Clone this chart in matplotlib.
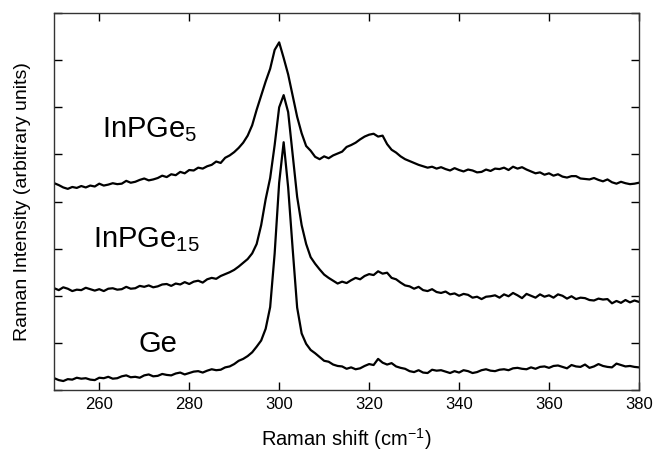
import matplotlib
matplotlib.use("Agg")
import matplotlib.pyplot as plt
import numpy as np

plt.rcParams['font.family'] = ['Liberation Sans', 'DejaVu Sans']
plt.rcParams['mathtext.default'] = 'regular'

# Raman shift grid (cm^-1), one point per wavenumber
shift = np.arange(250, 381, 1)

# intensities (arbitrary units, offset stacked)
ge = [0.25, 0.21, 0.19, 0.23, 0.22, 0.26, 0.24, 0.25, 0.22, 0.21,
      0.26, 0.25, 0.28, 0.24, 0.25, 0.29, 0.31, 0.27, 0.28, 0.26,
      0.31, 0.33, 0.29, 0.30, 0.34, 0.32, 0.31, 0.35, 0.37, 0.33,
      0.36, 0.39, 0.40, 0.37, 0.41, 0.44, 0.42, 0.43, 0.48, 0.50,
      0.55, 0.62, 0.66, 0.72, 0.80, 0.92, 1.05, 1.30, 1.76, 2.90,
      4.40, 5.26, 4.30, 3.00, 1.75, 1.20, 0.98, 0.85, 0.78, 0.70,
      0.62, 0.60, 0.54, 0.51, 0.50, 0.45, 0.48, 0.44, 0.46, 0.51,
      0.55, 0.53, 0.66, 0.58, 0.54, 0.57, 0.50, 0.47, 0.45, 0.40,
      0.38, 0.42, 0.37, 0.36, 0.43, 0.41, 0.42, 0.39, 0.36, 0.40,
      0.37, 0.42, 0.40, 0.36, 0.38, 0.42, 0.44, 0.41, 0.40, 0.43,
      0.44, 0.42, 0.46, 0.47, 0.45, 0.44, 0.48, 0.45, 0.49, 0.50,
      0.47, 0.51, 0.52, 0.49, 0.46, 0.53, 0.50, 0.49, 0.54, 0.47,
      0.50, 0.55, 0.51, 0.49, 0.48, 0.56, 0.53, 0.50, 0.51, 0.49,
      0.48]

inpge15 = [2.16, 2.12, 2.18, 2.15, 2.10, 2.13, 2.12, 2.17, 2.14, 2.11,
           2.14, 2.10, 2.15, 2.16, 2.13, 2.14, 2.19, 2.15, 2.16, 2.21,
           2.19, 2.22, 2.18, 2.20, 2.24, 2.25, 2.21, 2.26, 2.24, 2.29,
           2.25, 2.30, 2.32, 2.28, 2.35, 2.38, 2.36, 2.42, 2.46, 2.50,
           2.55, 2.62, 2.70, 2.78, 2.90, 3.10, 3.50, 4.05, 4.50, 5.20,
           6.00, 6.26, 5.90, 5.00, 4.10, 3.50, 3.10, 2.82, 2.68, 2.56,
           2.45, 2.38, 2.32, 2.26, 2.30, 2.27, 2.33, 2.38, 2.35, 2.42,
           2.46, 2.44, 2.52, 2.47, 2.49, 2.38, 2.35, 2.28, 2.22, 2.20,
           2.15, 2.19, 2.12, 2.10, 2.14, 2.08, 2.06, 2.09, 2.03, 2.05,
           2.00, 2.04, 2.02, 1.96, 1.98, 1.93, 1.98, 1.99, 2.01, 1.96,
           2.03, 1.99, 2.06, 2.01, 1.95, 2.04, 2.00, 1.96, 2.03, 1.98,
           2.01, 1.96, 2.03, 2.00, 1.94, 1.99, 1.93, 1.96, 1.95, 1.91,
           1.90, 1.94, 1.92, 1.93, 1.84, 1.89, 1.85, 1.91, 1.86, 1.90,
           1.87]

inpge5 = [4.39, 4.35, 4.30, 4.27, 4.31, 4.29, 4.33, 4.30, 4.34, 4.32,
          4.38, 4.34, 4.36, 4.39, 4.37, 4.38, 4.44, 4.40, 4.42, 4.46,
          4.49, 4.45, 4.47, 4.50, 4.55, 4.52, 4.58, 4.56, 4.63, 4.60,
          4.67, 4.66, 4.72, 4.70, 4.75, 4.78, 4.85, 4.82, 4.93, 4.98,
          5.05, 5.14, 5.25, 5.40, 5.62, 5.95, 6.25, 6.55, 6.82, 7.22,
          7.38, 7.05, 6.70, 6.25, 5.80, 5.45, 5.18, 5.08, 4.95, 4.90,
          4.96, 4.92, 4.98, 5.02, 5.06, 5.16, 5.20, 5.25, 5.32, 5.38,
          5.42, 5.44, 5.38, 5.40, 5.22, 5.10, 5.04, 4.96, 4.90, 4.86,
          4.82, 4.78, 4.75, 4.72, 4.74, 4.70, 4.73, 4.69, 4.66, 4.71,
          4.67, 4.64, 4.68, 4.66, 4.62, 4.63, 4.68, 4.65, 4.70, 4.69,
          4.72, 4.67, 4.74, 4.70, 4.73, 4.68, 4.64, 4.60, 4.62, 4.57,
          4.60, 4.55, 4.58, 4.53, 4.51, 4.54, 4.54, 4.49, 4.48, 4.47,
          4.50, 4.46, 4.43, 4.47, 4.41, 4.38, 4.42, 4.39, 4.37, 4.38,
          4.40]

labels = ['InPGe$_{5}$', 'InPGe$_{15}$', 'Ge']
label_x = [260.7, 258.7, 268.7]
label_y = [5.37, 3.03, 0.81]

fig = plt.figure(figsize=(6.54, 4.54), dpi=100)
ax = fig.add_axes([0.083, 0.141, 0.894, 0.830])

for y in (ge, inpge15, inpge5):
    ax.plot(shift, y, color='black', lw=1.6)

for lab, lx, ly in zip(labels, label_x, label_y):
    ax.text(lx, ly, lab, fontsize=21, ha='left', va='baseline')

ax.set_xlim(250, 380)
ax.set_ylim(0, 8)
ax.set_xticks(range(260, 381, 20))
ax.set_yticks(range(0, 9))
ax.set_yticklabels([])
ax.tick_params(direction='in', top=True, right=True, length=6, width=1,
               labelsize=12, pad=5)
for s in ax.spines.values():
    s.set_linewidth(1)
    s.set_color('#333333')

ax.set_xlabel('Raman shift (cm$^{-1}$)', fontsize=14.5, labelpad=10)
ax.set_ylabel('Raman Intensity (arbitrary units)', fontsize=14, labelpad=12)

fig.savefig('out.png', dpi=100)
